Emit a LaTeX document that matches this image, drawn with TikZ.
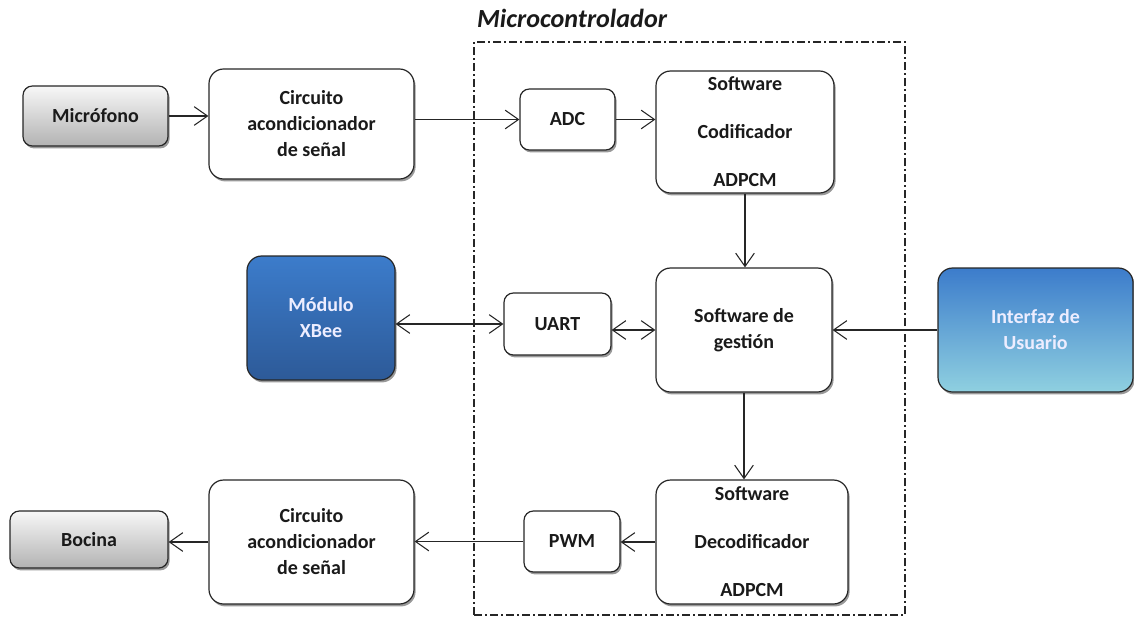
\documentclass[tikz,border=0pt]{standalone}
\usepackage{fontspec}
\setmainfont{Carlito}
\usetikzlibrary{arrows.meta,shadows}
\definecolor{boxline}{HTML}{262626}
\definecolor{txt}{HTML}{1A1A1A}
\definecolor{bluetop}{HTML}{3C7CCB}
\definecolor{bluebot}{HTML}{2D5A98}
\definecolor{cyanbot}{HTML}{8FD0E0}
\tikzset{
  box/.style={draw=boxline, line width=0.9pt, fill=white, rounded corners=11pt,
    align=center, inner sep=0pt, text=txt,
    font=\fontsize{15}{19.5}\selectfont\bfseries,
    drop shadow={shadow xshift=1.2pt, shadow yshift=-1.8pt, opacity=0.4, fill=black}},
  smallbox/.style={box, rounded corners=7pt},
  sz/.style 2 args={minimum width=#1*0.75pt, minimum height=#2*0.75pt},
  graybox/.style={smallbox, top color=black!3, bottom color=black!30},
  xbeebox/.style={box, top color=bluetop, bottom color=bluebot, text=white!93!blue},
  uibox/.style={box, top color=bluetop, bottom color=cyanbot, text=white!93!blue},
  frame/.style={draw=boxline, line width=0.8pt, inner sep=0pt,
    dash pattern=on 6pt off 2.5pt on 1pt off 2.5pt},
  tip/.tip={Straight Barb[length=10pt,width=14pt]},
  link/.style={draw=boxline, line width=0.8pt, -tip},
  dlink/.style={link, tip-tip},
}
\begin{document}
\begin{tikzpicture}[x=0.75pt,y=-0.75pt]
\useasboundingbox (0,0) rectangle (1134,618);

% microcontroller boundary and its title
\node[frame, sz={431}{573}] (mcu) at (689.5,328.5) {};
\node[font=\fontsize{19.6}{22}\selectfont\bfseries\itshape, text=txt] (mcutitle) at (572,18) {Microcontrolador};

% top row: capture path
\node[graybox, sz={145}{60}] (mic) at (95.5,116) {Micrófono};
\node[box, sz={205}{110}] (circ1) at (311.5,124) {Circuito\\acondicionador\\de señal};
\node[smallbox, sz={95}{61}] (adc) at (567.5,119.5) {ADC};
\node[box, sz={178}{122}] (cod) at (745,132) {Software\\[16.5pt]Codificador\\[16.5pt]ADPCM};

% middle row: management
\node[xbeebox, sz={148}{124}] (xbee) at (321,318) {Módulo\\XBee};
\node[smallbox, sz={107}{62}] (uart) at (557.5,324) {UART};
\node[box, sz={176}{124}] (gest) at (744,330) {Software de\\gestión};
\node[uibox, sz={195}{124}] (ui) at (1035.5,330) {Interfaz de\\Usuario};

% bottom row: playback path
\node[graybox, sz={158}{57}] (bocina) at (89,539.5) {Bocina};
\node[box, sz={205}{124}] (circ2) at (311.5,542) {Circuito\\acondicionador\\de señal};
\node[smallbox, sz={96}{61}] (pwm) at (572,541.5) {PWM};
\node[box, sz={192}{124}] (decod) at (752,542) {Software\\[16.5pt]Decodificador\\[16.5pt]ADPCM};

% connectors
\draw[link] (mic.east) -- (mic.east -| circ1.west);
\draw[link] (circ1.east |- adc.west) -- (adc.west);
\draw[link] (adc.east) -- (adc.east -| cod.west);
\draw[link] (cod.south) -- (cod.south |- gest.north);
\draw[dlink] (xbee.east |- uart.west) -- (uart.west);
\draw[dlink] (uart.east |- gest.west) -- (gest.west);
\draw[link] (ui.west) -- (gest.east);
\draw[link] (gest.south) -- (gest.south |- decod.north);
\draw[link] (decod.west) -- (decod.west -| pwm.east);
\draw[link] (pwm.west) -- (pwm.west -| circ2.east);
\draw[link] (circ2.west) -- (circ2.west -| bocina.east);
\end{tikzpicture}
\end{document}
